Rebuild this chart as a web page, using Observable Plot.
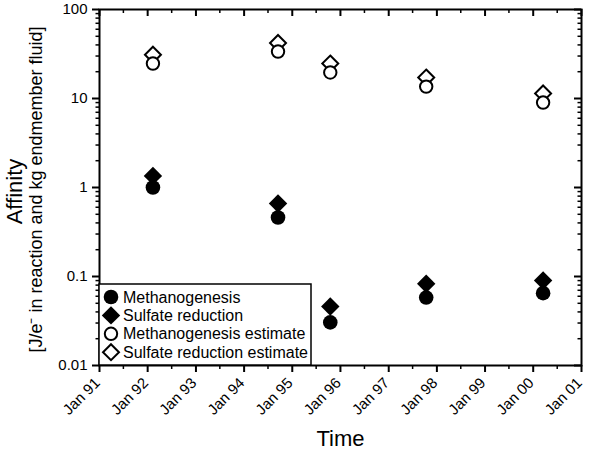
<!DOCTYPE html>
<html><head><meta charset="utf-8">
<script src="https://cdn.jsdelivr.net/npm/d3@7"></script>
<script src="https://cdn.jsdelivr.net/npm/@observablehq/plot@0.6"></script>
<style>
body{margin:0;background:#fff;}
#wrap{position:relative;width:600px;height:453px;font-family:"Liberation Sans",Arial,sans-serif;}
#legend{position:absolute;left:98px;top:283px;}
</style></head>
<body><div id="wrap"></div>
<script>
// ---- data ----
const dates = ["1992-02-10","1994-09-15","1995-10-16","1997-10-12","2000-03-16"];
const methanogenesis = [1.0, 0.46, 0.0305, 0.058, 0.065];
const sulfateReduction = [1.35, 0.66, 0.046, 0.083, 0.090];
const methanogenesisEstimate = [24.7, 33.7, 19.6, 13.6, 9.0];
const sulfateReductionEstimate = [31, 42, 24.7, 17.2, 11.4];
const seriesNames = ["Methanogenesis","Sulfate reduction","Methanogenesis estimate","Sulfate reduction estimate"];
const yTicks = [0.01, 0.1, 1, 10, 100];
const yTickLabels = ["0.01", "0.1", "1", "10", "100"];
const tickYears = [1991,1992,1993,1994,1995,1996,1997,1998,1999,2000,2001];

// ---- derived ----
const W = 600, H = 453, ML = 99, MR = 19, MT = 9, MB = 88;
const pw = W - ML - MR, ph = H - MT - MB;
const parse = d3.utcParse("%Y-%m-%d");
const pts = dates.map((d, i) => ({
  date: parse(d),
  m: methanogenesis[i], s: sulfateReduction[i],
  me: methanogenesisEstimate[i], se: sulfateReductionEstimate[i]
}));
const xMajor = tickYears.map(y => new Date(Date.UTC(y, 0, 1)));
const xMinor = tickYears.slice(0, -1).map(y => new Date(Date.UTC(y, 6, 1)));
const yMinor = [];
for (let e = -2; e < 2; e++) for (let k = 2; k <= 9; k++) yMinor.push(k * Math.pow(10, e));
const fmtX = d3.utcFormat("Jan %y");
const yLab = yTicks.map((v, i) => ({v, t: yTickLabels[i]}));

const chart = Plot.plot({
  width: W, height: H,
  marginLeft: ML, marginRight: MR, marginTop: MT, marginBottom: MB,
  style: {fontFamily: "Liberation Sans, Arial, sans-serif", background: "#fff", color: "#000"},
  x: {type: "utc", domain: [xMajor[0], xMajor[xMajor.length - 1]]},
  y: {type: "log", domain: [0.01, 100]},
  marks: [
    // left axis (outward)
    Plot.axisY({anchor: "left", ticks: yTicks, tickSize: 7, strokeWidth: 2, tickFormat: () => "", label: null}),
    Plot.axisY({anchor: "left", ticks: yMinor, tickSize: 3.5, strokeWidth: 1.5, tickFormat: () => "", label: null}),
    Plot.text(yLab, {y: "v", text: "t", frameAnchor: "left", dx: -12, textAnchor: "end", lineAnchor: "middle",
      fontSize: 15, fill: "#000"}),
    // right axis (inward)
    Plot.tickY(yTicks, {y: d => d, insetLeft: pw - 7, strokeWidth: 2}),
    Plot.tickY(yMinor, {y: d => d, insetLeft: pw - 3.5, strokeWidth: 1.5}),
    // bottom axis (outward)
    Plot.axisX({anchor: "bottom", ticks: xMajor, tickSize: 7, strokeWidth: 2, tickFormat: () => "", label: null}),
    Plot.axisX({anchor: "bottom", ticks: xMinor, tickSize: 4, strokeWidth: 1.5, tickFormat: () => "", label: null}),
    Plot.text(xMajor, {x: d => d, text: d => fmtX(d), frameAnchor: "bottom", dx: -2, dy: 15, rotate: -45,
      textAnchor: "end", lineAnchor: "middle", fontSize: 15, fill: "#000"}),
    // top axis (inward)
    Plot.tickX(xMajor, {x: d => d, insetBottom: ph - 7, strokeWidth: 2}),
    Plot.tickX(xMinor, {x: d => d, insetBottom: ph - 4, strokeWidth: 1.5}),
    Plot.frame({stroke: "#000", strokeWidth: 2}),
    // data
    Plot.dot(pts, {x: "date", y: "s", symbol: "diamond2", r: 8.3, fill: "#000", stroke: "none"}),
    Plot.dot(pts, {x: "date", y: "m", symbol: "circle", r: 7.3, fill: "#000", stroke: "none"}),
    Plot.dot(pts, {x: "date", y: "se", symbol: "diamond2", r: 7.2, fill: "#fff", stroke: "#000", strokeWidth: 2}),
    Plot.dot(pts, {x: "date", y: "me", symbol: "circle", r: 6.2, fill: "#fff", stroke: "#000", strokeWidth: 2}),
    // axis titles
    Plot.text([0], {frameAnchor: "left", text: () => "Affinity", rotate: -90, dx: -85, dy: 4,
      fontSize: 22, textAnchor: "middle", lineAnchor: "middle", fill: "#000"}),
    Plot.text([0], {frameAnchor: "left", text: () => "[J/e\u207B in reaction and kg endmember fluid]", rotate: -90, dx: -63, dy: 2,
      fontSize: 18, textAnchor: "middle", lineAnchor: "middle", fill: "#000"}),
    Plot.text([0], {frameAnchor: "bottom", text: () => "Time", dy: 73,
      fontSize: 22, textAnchor: "middle", lineAnchor: "middle", fill: "#000"})
  ]
});
const wrap = document.getElementById("wrap");
wrap.appendChild(chart);

// ---- legend ----
const lw = 213, lh = 82;
const leg = d3.select(wrap).append("svg").attr("id", "legend").attr("width", lw + 2).attr("height", lh + 2);
leg.append("rect").attr("x", 1).attr("y", 1).attr("width", lw - 1).attr("height", lh - 1)
  .attr("fill", "#fff").attr("stroke", "#000").attr("stroke-width", 1.5);
const legSym = [
  {sym: d3.symbolCircle, r: 7.3, fill: "#000", stroke: "none"},
  {sym: d3.symbolDiamond2, r: 8.3, fill: "#000", stroke: "none"},
  {sym: d3.symbolCircle, r: 6.2, fill: "#fff", stroke: "#000"},
  {sym: d3.symbolDiamond2, r: 7.2, fill: "#fff", stroke: "#000"}
];
seriesNames.forEach((name, i) => {
  const cy = 14 + i * 18.4;
  const s = legSym[i];
  leg.append("path").attr("transform", `translate(13,${cy})`)
    .attr("d", d3.symbol(s.sym, Math.PI * s.r * s.r)())
    .attr("fill", s.fill).attr("stroke", s.stroke).attr("stroke-width", 2);
  leg.append("text").attr("x", 25).attr("y", cy).attr("dy", "0.35em")
    .attr("font-size", 16).attr("font-family", "Liberation Sans, Arial, sans-serif").text(name);
});
</script>
</body></html>
